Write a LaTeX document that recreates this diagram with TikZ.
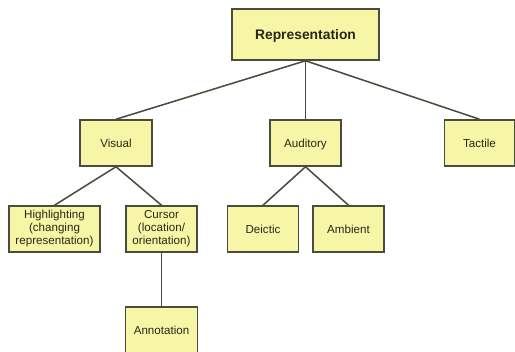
\documentclass[tikz,border=0pt]{standalone}
\usepackage{fontspec}
\setmainfont{Liberation Sans}
\definecolor{boxfill}{RGB}{246,246,166}
\definecolor{boxline}{RGB}{75,75,62}
\definecolor{txt}{RGB}{40,40,25}
\begin{document}
\begin{tikzpicture}[x=0.75pt,y=-0.75pt,
  box/.style={draw=boxline,fill=boxfill,line width=1.15pt,text=txt,
    inner sep=0pt,align=center,font=\fontsize{8.7}{9.75}\selectfont},
  oneline/.style={text height=8.1pt,text depth=1.9pt},
  link/.style={draw=boxline,line width=1.15pt}]
\useasboundingbox (0,0) rectangle (515,352);
\node[box,oneline,minimum width=110.25pt,minimum height=38.25pt,
  font=\fontsize{10.4}{12}\selectfont\bfseries,text height=9.6pt,text depth=2.2pt] (rep) at (305.5,34.5) {Representation};
\node[box,oneline,minimum width=54pt,minimum height=34.5pt] (vis) at (116,143) {Visual};
\node[box,oneline,minimum width=53.25pt,minimum height=34.5pt] (aud) at (305.5,143) {Auditory};
\node[box,oneline,minimum width=52.5pt,minimum height=34.5pt] (tac) at (479.5,143) {Tactile};
\node[box,minimum width=68.25pt,minimum height=34.5pt] (hig) at (54.5,229) {Highlighting\\(changing\\representation)};
\node[box,minimum width=53.25pt,minimum height=34.5pt] (cur) at (161.5,229) {Cursor\\(location/\\orientation)};
\node[box,oneline,minimum width=53.25pt,minimum height=34.5pt] (dei) at (263,229) {Deictic};
\node[box,oneline,minimum width=53.25pt,minimum height=34.5pt] (amb) at (348.5,229) {Ambient};
\node[box,oneline,minimum width=54pt,minimum height=34.5pt] (ann) at (161.5,330) {Annotation};
\draw[link] (rep.south) -- (vis.north);
\draw[link] (rep.south) -- (aud.north);
\draw[link] (rep.south) -- (tac.north);
\draw[link] (vis.south) -- (hig.north);
\draw[link] (vis.south) -- (cur.north);
\draw[link] (aud.south) -- (dei.north);
\draw[link] (aud.south) -- (amb.north);
\draw[link] (cur.south) -- (ann.north);
\end{tikzpicture}
\end{document}
